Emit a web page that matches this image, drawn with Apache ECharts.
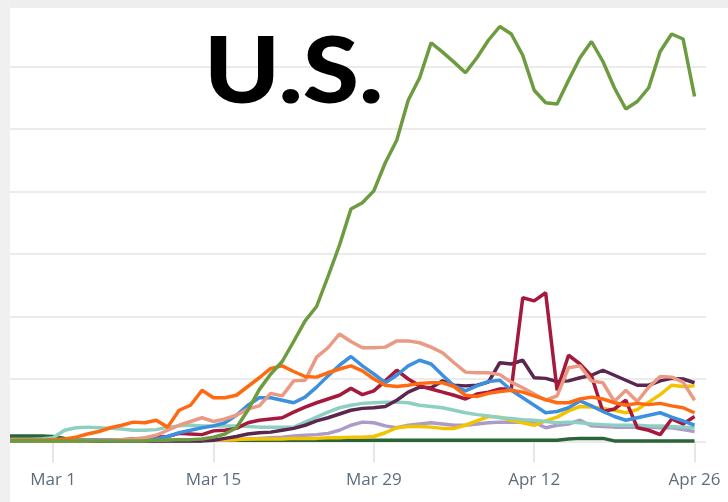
<!DOCTYPE html>
<html>
<head>
<meta charset="utf-8">
<script src="https://cdn.jsdelivr.net/npm/echarts@6/dist/echarts.min.js"></script>
<style>
html,body{margin:0;padding:0;background:#fff;}
#c{width:728px;height:502px;}
</style>
</head>
<body>
<div id="c"></div>
<script>
const categories = ["Feb 26","Feb 27","Feb 28","Feb 29",
"Mar 1","Mar 2","Mar 3","Mar 4","Mar 5","Mar 6","Mar 7","Mar 8","Mar 9","Mar 10","Mar 11","Mar 12","Mar 13","Mar 14","Mar 15","Mar 16","Mar 17","Mar 18","Mar 19","Mar 20","Mar 21","Mar 22","Mar 23","Mar 24","Mar 25","Mar 26","Mar 27","Mar 28","Mar 29","Mar 30","Mar 31",
"Apr 1","Apr 2","Apr 3","Apr 4","Apr 5","Apr 6","Apr 7","Apr 8","Apr 9","Apr 10","Apr 11","Apr 12","Apr 13","Apr 14","Apr 15","Apr 16","Apr 17","Apr 18","Apr 19","Apr 20","Apr 21","Apr 22","Apr 23","Apr 24","Apr 25","Apr 26","Apr 27"];

const tickLabels = ["Mar 1","Mar 15","Mar 29","Apr 12","Apr 26"];

const usGreen = [1,1,1,1,1,1,1,1,1,1,1,1,1,2,2,3,3,4,7,12,22,50,83,108,128,160,193,216,264,314,372,382,401,446,482,546,582,638,623,607,590,614,642,664,652,618,562,542,540,578,614,640,608,566,532,544,566,624,652,644,552];
const orange = [2,2,2,2,3,4,7,12,16,22,26,31,30,34,23,50,58,82,70,70,74,88,102,117,121,112,104,103,110,116,121,113,100,90,88,90,93,94,94,88,74,72,77,80,82,79,73,67,62,62,68,71,68,62,58,61,59,61,57,54,46];
const salmon = [1,1,1,1,1,1,1,1,2,2,3,4,6,10,18,26,32,38,32,36,42,52,57,77,73,97,98,135,150,172,160,150,150,151,161,161,158,151,142,126,111,110,110,107,95,86,76,66,73,118,121,97,94,64,82,64,87,104,103,95,66];
const blue = [2,2,2,2,2,2,2,2,3,3,3,3,3,4,8,14,18,22,25,30,42,58,70,70,66,62,71,87,105,122,136,121,108,94,106,121,130,124,106,89,81,89,96,98,82,70,58,46,48,54,65,57,48,40,34,38,42,46,39,33,26];
const crimson = [1,1,1,1,1,1,1,1,1,2,3,4,5,7,8,13,12,11,17,18,21,30,34,36,38,47,55,62,68,74,85,75,81,97,114,100,89,84,79,74,68,76,79,84,84,230,225,238,82,138,124,105,48,52,66,22,18,11,36,28,40];
const darkPurple = [1,1,1,1,1,1,1,1,1,1,1,1,1,1,1,1,1,1,2,5,8,12,14,15,18,21,26,33,38,44,50,53,54,56,66,79,87,86,97,90,89,90,95,126,124,130,102,101,96,97,102,106,114,106,98,90,90,97,101,100,94];
const teal = [2,2,3,4,6,18,22,23,22,21,20,18,18,19,23,25,26,25,25,25,25,24,23,23,23,23,31,39,47,54,58,61,62,63,63,62,58,56,54,50,46,43,41,38,37,35,34,32,30,31,30,28,27,26,26,26,25,25,24,23,22];
const lavender = [1,1,1,1,1,1,1,1,1,1,1,1,1,1,1,1,1,1,2,2,3,4,5,6,7,9,10,11,13,18,26,31,30,25,22,26,28,30,28,26,26,28,30,31,31,31,31,22,26,28,34,25,24,23,23,23,23,22,22,19,16];
const yellow = [2,2,2,2,2,2,2,2,2,2,2,2,2,2,2,3,3,3,3,3,3,4,4,4,4,5,5,5,6,6,7,7,8,14,22,24,24,23,21,21,26,33,40,39,34,30,26,33,39,49,56,55,53,50,46,51,63,75,90,88,89];
const darkGreen = [9,9,9,9,8,5,3,2,2,2,2,2,2,2,2,2,2,2,2,2,2,2,2,2,2,2,2,2,2,2,2,2,2,2,2,2,2,2,2,2,2,2,2,2,2,2,2,2,2,4,5,5,5,1,1,1,1,1,1,1,1];

const seriesDefs = [
  {name:'Dark green', data:darkGreen, color:'#2b6537'},
  {name:'Lavender', data:lavender, color:'#ab9bc8'},
  {name:'Yellow', data:yellow, color:'#f4c300'},
  {name:'Teal', data:teal, color:'#8dd0c1'},
  {name:'Dark purple', data:darkPurple, color:'#5b264f'},
  {name:'Crimson', data:crimson, color:'#a5193d'},
  {name:'Blue', data:blue, color:'#3d90e0'},
  {name:'Salmon', data:salmon, color:'#ea9a82'},
  {name:'Orange', data:orange, color:'#ff6a10'},
  {name:'U.S.', data:usGreen, color:'#6c9b40'}
];

const labelIdx = tickLabels.map(l => categories.indexOf(l));
const showIdx = (i) => labelIdx.indexOf(i) >= 0;

const chart = echarts.init(document.getElementById('c'), null, {renderer:'canvas'});
chart.setOption({
  animation:false,
  backgroundColor:'#fff',
  grid:{left:7.3, right:22, top:4, bottom:60.5, containLabel:false},
  xAxis:{
    type:'category', data:categories, boundaryGap:false,
    axisLine:{show:false},
    axisTick:{show:true, interval:(i)=>showIdx(i), length:21, lineStyle:{color:'#e6e6e6', width:2}},
    axisLabel:{interval:(i)=>showIdx(i), margin:30, fontSize:17, fontFamily:'Open Sans', color:'#5d6d7e'},
    splitLine:{show:false}
  },
  yAxis:{
    type:'value', min:0, max:700, interval:100,
    axisLabel:{show:false}, axisLine:{show:false}, axisTick:{show:false},
    splitLine:{lineStyle:{color:'#ebebeb', width:2}}
  },
  graphic:[
    {type:'rect', left:0, top:0, z:100, shape:{width:728, height:8}, style:{fill:'#eeeeee'}},
    {type:'rect', left:0, top:0, z:100, shape:{width:10, height:502}, style:{fill:'#f0f0f0'}},
    {type:'text', x:204, y:27, scaleX:1.11, scaleY:1, z:110,
      style:{text:'U.S.', fontSize:92, fontWeight:900, fontFamily:'Lato', fill:'#000',
        verticalAlign:'top', align:'left',
        shadowColor:'rgba(0,0,0,0.35)', shadowBlur:4, shadowOffsetX:2, shadowOffsetY:3}}
  ],
  series: seriesDefs.map(s => ({
    name:s.name, type:'line', data:s.data, showSymbol:false, symbol:'none',
    lineStyle:{color:s.color, width:3.5}, itemStyle:{color:s.color}, smooth:false
  }))
});
</script>
</body>
</html>
